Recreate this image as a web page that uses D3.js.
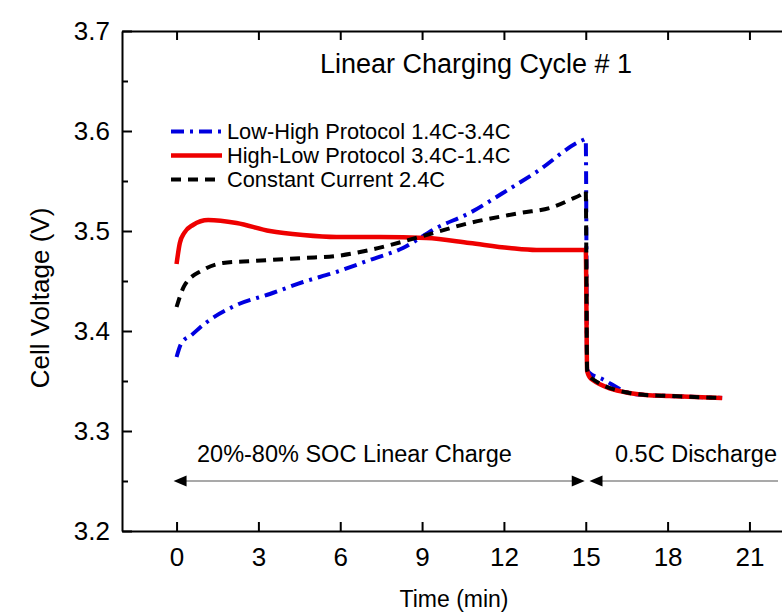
<!DOCTYPE html>
<html>
<head>
<meta charset="utf-8">
<script src="https://cdn.jsdelivr.net/npm/d3@7"></script>
<style>
  html, body { margin: 0; padding: 0; background: #fff; }
  svg { display: block; font-family: "Liberation Sans", Arial, sans-serif; }
</style>
</head>
<body>
<svg id="chart" width="782" height="614"></svg>
<script>
// Low-High protocol 1.4C-3.4C (time in min, cell voltage in V)
const lowHighTime = [0, 0.18, 0.55, 0.97, 2.2, 3.42, 4.64, 5.86, 7.08, 8.3, 9.52, 10.74, 11.96, 13.19, 14.9, 15.0, 15.05, 15.14, 15.6, 16.6, 17.2, 18.07, 20];
const lowHighVolt = [3.374, 3.388, 3.396, 3.406, 3.426, 3.437, 3.449, 3.459, 3.471, 3.483, 3.503, 3.518, 3.538, 3.559, 3.591, 3.592, 3.362, 3.358, 3.352, 3.338, 3.336, 3.335, 3.333];

// High-Low protocol 3.4C-1.4C
const highLowTime = [0, 0.12, 0.28, 0.6, 1.16, 2.2, 3.42, 4.63, 5.86, 7.45, 9.16, 10.74, 12.2, 13.19, 14.9, 15.0, 15.05, 15.2, 16.6, 17.2, 18.07, 20];
const highLowVolt = [3.467, 3.488, 3.498, 3.506, 3.511, 3.508, 3.500, 3.496, 3.494, 3.494, 3.493, 3.488, 3.483, 3.481, 3.481, 3.481, 3.360, 3.352, 3.338, 3.336, 3.335, 3.333];

// Constant current 2.4C
const constTime = [0, 0.3, 0.97, 1.7, 2.8, 4.64, 5.86, 7.08, 8.9, 10.74, 12.6, 13.8, 14.4, 14.96, 15.0, 15.05, 15.2, 16.6, 17.2, 18.07, 20];
const constVolt = [3.424, 3.446, 3.461, 3.468, 3.470, 3.473, 3.475, 3.481, 3.494, 3.508, 3.518, 3.524, 3.531, 3.539, 3.540, 3.361, 3.353, 3.338, 3.336, 3.335, 3.333];

const legendLabels = ["Low-High Protocol 1.4C-3.4C", "High-Low Protocol 3.4C-1.4C", "Constant Current 2.4C"];
const xTicks = [0, 3, 6, 9, 12, 15, 18, 21];
const yTicks = [3.2, 3.3, 3.4, 3.5, 3.6, 3.7];
const yMinorTicks = [3.25, 3.35, 3.45, 3.55, 3.65];

const svg = d3.select("#chart");
const FONT = "'Liberation Sans', Arial, sans-serif";

const x = d3.scaleLinear().domain([-2, 24]).range([122, 122 + 26 * 27.28]);
const y = d3.scaleLinear().domain([3.2, 3.7]).range([531, 31]);
const plotTop = y.range()[1], plotBottom = y.range()[0], plotLeft = x.range()[0], plotRight = x.range()[1];

// Curves
const series = [
  { t: lowHighTime, v: lowHighVolt, color: "#0000e0", dash: "13,6,3,6", width: 4 },
  { t: highLowTime, v: highLowVolt, color: "#ee0000", dash: null, width: 4.5 },
  { t: constTime,   v: constVolt,   color: "#000000", dash: "10,7", width: 4 }
];
const line = d3.line().x(d => x(d[0])).y(d => y(d[1])).curve(d3.curveMonotoneX);
const plot = svg.append("g");
series.forEach(s => {
  plot.append("path")
    .datum(d3.zip(s.t, s.v))
    .attr("d", line)
    .attr("fill", "none")
    .attr("stroke", s.color)
    .attr("stroke-width", s.width)
    .attr("stroke-linejoin", "round")
    .attr("stroke-dasharray", s.dash);
});

// Axes
const axisStyle = g => {
  g.select(".domain").attr("stroke", "#000").attr("stroke-width", 2);
  g.selectAll(".tick line").attr("stroke", "#000").attr("stroke-width", 2);
  g.selectAll(".tick text").attr("fill", "#000").attr("font-family", FONT);
};

svg.append("g")
  .attr("transform", `translate(${plotLeft},0)`)
  .call(d3.axisLeft(y).tickValues(yTicks).tickFormat(d3.format(".1f")).tickSizeInner(-10).tickSizeOuter(0).tickPadding(12))
  .call(axisStyle)
  .call(g => g.selectAll(".tick text").attr("font-size", 26));

svg.append("g")
  .attr("transform", `translate(${plotLeft},0)`)
  .call(d3.axisLeft(y).tickValues(yMinorTicks).tickFormat("").tickSizeInner(-6).tickSizeOuter(0))
  .call(axisStyle)
  .call(g => g.select(".domain").remove());

svg.append("g")
  .attr("transform", `translate(0,${plotBottom})`)
  .call(d3.axisBottom(x).tickValues(xTicks).tickFormat(d3.format("d")).tickSizeInner(-9).tickSizeOuter(0).tickPadding(17))
  .call(axisStyle)
  .call(g => g.selectAll(".tick text").attr("font-size", 26));

svg.append("g")
  .attr("transform", `translate(0,${plotTop})`)
  .call(d3.axisTop(x).tickValues(xTicks).tickFormat("").tickSizeInner(-9).tickSizeOuter(0))
  .call(axisStyle);

// Axis titles
svg.append("text")
  .attr("x", 454).attr("y", 607)
  .attr("text-anchor", "middle")
  .attr("font-family", FONT).attr("font-size", 23)
  .text("Time (min)");

svg.append("text")
  .attr("transform", "translate(49,298) rotate(-90)")
  .attr("text-anchor", "middle")
  .attr("font-family", FONT).attr("font-size", 26)
  .text("Cell Voltage (V)");

// Title
svg.append("text")
  .attr("x", 476).attr("y", 73)
  .attr("text-anchor", "middle")
  .attr("font-family", FONT).attr("font-size", 27)
  .text("Linear Charging Cycle # 1");

// Legend
const legend = svg.append("g");
series.forEach((s, i) => {
  const ly = 131.5 + i * 24;
  legend.append("line")
    .attr("x1", 171).attr("x2", 222).attr("y1", ly).attr("y2", ly)
    .attr("stroke", s.color).attr("stroke-width", s.width)
    .attr("stroke-dasharray", s.dash);
  legend.append("text")
    .attr("x", 227).attr("y", ly + 7.5)
    .attr("font-family", FONT).attr("font-size", 21.8)
    .text(legendLabels[i]);
});

// Phase annotations with double arrows
const arrowY = y(3.25);
const head = (tipX, dir) => {
  const L = 13, H = 5.5;
  return `M${tipX},${arrowY} L${tipX + dir * L},${arrowY - H} L${tipX + dir * L},${arrowY + H} Z`;
};
const ann = svg.append("g");
ann.append("line")
  .attr("x1", x(0) + 5).attr("x2", x(15) - 5).attr("y1", arrowY).attr("y2", arrowY)
  .attr("stroke", "#555").attr("stroke-width", 1.2);
ann.append("path").attr("d", head(x(0) - 3, 1)).attr("fill", "#000");
ann.append("path").attr("d", head(x(15) - 1, -1)).attr("fill", "#000");
ann.append("line")
  .attr("x1", x(15.1) + 8).attr("x2", 778).attr("y1", arrowY).attr("y2", arrowY)
  .attr("stroke", "#555").attr("stroke-width", 1.2);
ann.append("path").attr("d", head(x(15.1) + 1, 1)).attr("fill", "#000");

ann.append("text")
  .attr("x", 197).attr("y", 462)
  .attr("font-family", FONT).attr("font-size", 23.5)
  .text("20%-80% SOC Linear Charge");
ann.append("text")
  .attr("x", 615).attr("y", 462)
  .attr("font-family", FONT).attr("font-size", 23.5)
  .text("0.5C Discharge");
</script>
</body>
</html>
